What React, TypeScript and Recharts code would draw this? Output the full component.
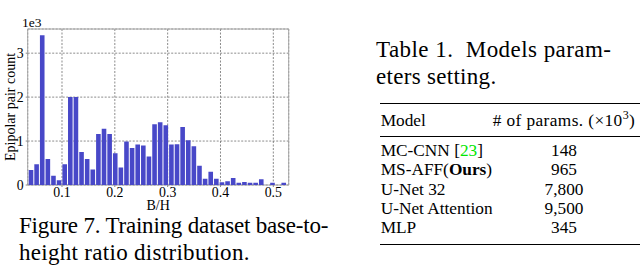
import { BarChart, Bar, XAxis, YAxis, CartesianGrid, ReferenceArea, Label } from "recharts";

// histogram counts per B/H bin
const counts = [
  340, 470, 3410, 590, 210, 110, 470, 2000, 2000, 750,
  590, 350, 1160, 1280, 1160, 720, 400, 990, 840, 920,
  900, 650, 1380, 1430, 1360, 920, 930, 1320, 1020, 880,
  440, 140, 300, 140, 60, 85, 160, 50, 70, 50,
  50, 130, 0, 50, 0, 50,
];
const binStart = 0.0351;
const binWidth = 0.01063;
const xTicks = [0.1, 0.2, 0.3, 0.4, 0.5];
const yTicks = [0, 1000, 2000, 3000];
const xRange: [number, number] = [0.0351, 0.5291];
const yMax = 3550;

const models = ["MC-CNN", "MS-AFF", "U-Net 32", "U-Net Attention", "MLP"];
const params = ["148", "965", "7,800", "9,500", "345"];

const serif = '"Liberation Serif", "Times New Roman", serif';

const data = counts.map((count, i) => ({ x: binStart + (i + 0.5) * binWidth, count }));

const YLabels = () => (
  <g fontFamily={serif} fill="#000">
    <text x={22} y={26.7} fontSize={13.5}>
      1e3
    </text>
    <text x={15} y={107} fontSize={14} textAnchor="middle" transform="rotate(-90 15 107)">
      Epipolar pair count
    </text>
  </g>
);

const modelCell = (i: number) => {
  if (i === 0)
    return (
      <>
        MC-CNN [<span style={{ color: "#00e600" }}>23</span>]
      </>
    );
  if (i === 1)
    return (
      <>
        MS-AFF(<b>Ours</b>)
      </>
    );
  return models[i];
};

const cellStyle = { position: "absolute", fontSize: 17.3, lineHeight: "19.2px", whiteSpace: "nowrap" } as const;
// big caption text: 23px with a 20px line box, so top = baseline - 17.8
const bigStyle = { position: "absolute", fontSize: 23, lineHeight: "20px", whiteSpace: "pre" } as const;

const App = () => {
  return (
    <div
      style={{
        position: "absolute",
        left: 0,
        top: 0,
        width: 640,
        height: 272,
        overflow: "hidden",
        background: "#fff",
        fontFamily: serif,
        color: "#000",
      }}
    >
      {/* HISTOGRAM */}
      <div style={{ position: "absolute", left: 0, top: 0 }}>
        <BarChart
          width={300}
          height={215}
          data={data}
          margin={{ top: 29, right: 11.3, left: 0, bottom: 0 }}
        >
          <CartesianGrid stroke="#6f6f6f" strokeDasharray="2 1.5" strokeWidth={0.8} />
          <XAxis
            dataKey="x"
            type="number"
            domain={xRange}
            ticks={xTicks}
            allowDataOverflow
            height={30}
            tickSize={2}
            tickMargin={0}
            axisLine={false}
            tickLine={{ stroke: "#888" }}
            tickFormatter={(v: number) => v.toFixed(1)}
            tick={{ fontSize: 13.8, fill: "#000", fontFamily: serif }}
          >
            <Label value="B/H" position="insideBottom" offset={5.5} style={{ fontSize: 14, fill: "#000", fontFamily: serif }} />
          </XAxis>
          <YAxis
            type="number"
            domain={[0, yMax]}
            ticks={yTicks}
            allowDataOverflow
            width={27.7}
            tickSize={2}
            tickMargin={2}
            axisLine={false}
            tickLine={{ stroke: "#888" }}
            tickFormatter={(v: number) => String(v / 1000)}
            tick={{ fontSize: 13.8, fill: "#000", fontFamily: serif }}
          >
            <Label content={YLabels} />
          </YAxis>
          <Bar dataKey="count" fill="#4848c8" barSize={4.6} isAnimationActive={false} />
          <ReferenceArea
            x1={xRange[0]}
            x2={xRange[1]}
            y1={0}
            y2={yMax}
            fill="none"
            stroke="#a8a8a8"
            strokeWidth={1}
            ifOverflow="visible"
          />
        </BarChart>
      </div>

      {/* FIGURE CAPTION */}
      <div style={{ ...bigStyle, left: 19, top: 216, letterSpacing: -0.2 }}>Figure 7. Training dataset base-to-</div>
      <div style={{ ...bigStyle, left: 19, top: 243.2, letterSpacing: 0.3 }}>height ratio distribution.</div>

      {/* TABLE TITLE */}
      <div style={{ ...bigStyle, left: 376, top: 39.5, letterSpacing: 0.45 }}>Table 1.  Models param-</div>
      <div style={{ ...bigStyle, left: 376, top: 67.2, letterSpacing: 0.3 }}>eters setting.</div>

      {/* TABLE */}
      <div style={{ position: "absolute", left: 380, top: 102.5, width: 260, height: 1.5, background: "#000" }} />
      <div style={{ position: "absolute", left: 380, top: 135.5, width: 260, height: 1, background: "#000" }} />
      <div style={{ position: "absolute", left: 380, top: 243.5, width: 260, height: 1.5, background: "#000" }} />

      <div style={{ ...cellStyle, left: 380.7, top: 111.2 }}>Model</div>
      <div style={{ ...cellStyle, left: 464, width: 200, top: 111.2, textAlign: "center", letterSpacing: 0.4 }}>
        # of params. (×10<span style={{ fontSize: 12, position: "relative", top: -7 }}>3</span>)
      </div>

      {models.map((m, i) => (
        <div key={m}>
          <div style={{ ...cellStyle, left: 380.7, top: 141.2 + i * 19.15 }}>{modelCell(i)}</div>
          <div style={{ ...cellStyle, left: 464, width: 200, top: 141.2 + i * 19.15, textAlign: "center" }}>
            {params[i]}
          </div>
        </div>
      ))}
    </div>
  );
};

export default App;
